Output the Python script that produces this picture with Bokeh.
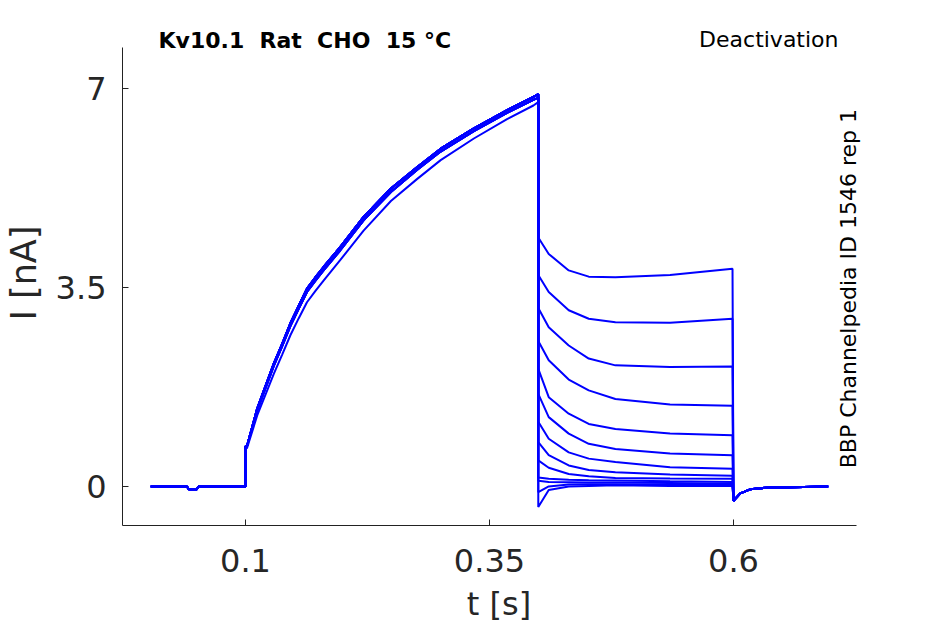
import math
from bokeh.plotting import figure
from bokeh.models import Range1d, FixedTicker, Label
from bokeh.embed import file_html
from bokeh.resources import INLINE

# ---- data ----
base_t = [0.003, 0.040, 0.042, 0.050, 0.052, 0.1]
base_i = [0.0, 0.0, -0.05, -0.05, 0.0, 0.0]

act_t = [0.1, 0.1017, 0.112, 0.129, 0.1376, 0.146, 0.1546, 0.163, 0.1717, 0.180,
         0.197, 0.221, 0.249, 0.276, 0.300, 0.334, 0.368, 0.395, 0.4]
act_upper = [0.70, 0.72, 1.37, 2.16, 2.51, 2.87, 3.18, 3.48, 3.68, 3.86,
             4.21, 4.74, 5.24, 5.62, 5.94, 6.30, 6.62, 6.85, 6.90]
act_mid = [0.70, 0.72, 1.34, 2.12, 2.47, 2.82, 3.13, 3.42, 3.62, 3.80,
           4.15, 4.68, 5.18, 5.57, 5.89, 6.25, 6.57, 6.80, 6.84]
act_lower = [0.66, 0.68, 1.25, 1.98, 2.32, 2.66, 2.96, 3.24, 3.44, 3.62,
             3.98, 4.50, 5.02, 5.41, 5.74, 6.12, 6.46, 6.70, 6.76]
act_curves = [act_upper, act_mid, act_lower]

tail_t = [0.4, 0.4107, 0.4312, 0.4517, 0.479, 0.535, 0.599]
tail_1 = [4.38, 4.09, 3.80, 3.69, 3.68, 3.72, 3.83]
tail_2 = [3.72, 3.42, 3.10, 2.95, 2.89, 2.88, 2.95]
tail_3 = [3.14, 2.80, 2.48, 2.25, 2.13, 2.10, 2.11]
tail_4 = [2.56, 2.22, 1.88, 1.69, 1.54, 1.44, 1.42]
tail_5 = [2.07, 1.57, 1.28, 1.10, 1.01, 0.93, 0.90]
tail_6 = [1.63, 1.22, 0.93, 0.75, 0.66, 0.58, 0.55]
tail_7 = [1.14, 0.84, 0.60, 0.49, 0.43, 0.34, 0.31]
tail_8 = [0.78, 0.55, 0.37, 0.29, 0.25, 0.21, 0.19]
tail_9 = [0.46, 0.33, 0.22, 0.18, 0.15, 0.14, 0.135]
tail_10 = [0.16, 0.135, 0.12, 0.11, 0.105, 0.09, 0.08]
tail_11 = [0.10, 0.08, 0.075, 0.07, 0.07, 0.06, 0.05]
tail_12 = [-0.10, 0.00, 0.035, 0.04, 0.04, 0.03, 0.03]
tail_13 = [-0.36, -0.06, 0.00, 0.01, 0.02, 0.01, 0.01]
tails = [tail_1, tail_2, tail_3, tail_4, tail_5, tail_6, tail_7,
         tail_8, tail_9, tail_10, tail_11, tail_12, tail_13]
act_choice = [0, 0, 1, 0, 1, 0, 0, 2, 0, 1, 0, 0, 1]

post_t = [0.6, 0.607, 0.617, 0.634, 0.697]
post_i = [-0.25, -0.12, -0.05, -0.02, 0.0]

x_ticks = [0.1, 0.35, 0.6]
y_ticks = [0, 3.5, 7]
x_axis_extent = (-0.026, 0.726)
y_axis_extent = (-0.686, 7.72)

title_text = "Kv10.1 \u00a0Rat \u00a0CHO \u00a015 °C"
protocol_text = "Deactivation"
id_text = "BBP Channelpedia ID 1546 rep 1"

# ---- figure ----
p = figure(frame_width=753, frame_height=505, output_backend="svg",
           toolbar_location=None,
           x_range=Range1d(-0.026, 0.7455), y_range=Range1d(-0.686, 8.195),
           min_border_left=114, min_border_right=40,
           min_border_top=20, min_border_bottom=90)
p.outline_line_color = None
p.grid.visible = False
p.background_fill_color = "white"
p.border_fill_color = "white"

line_color = "#0000ff"
for tail, ai in zip(tails, act_choice):
    ts = base_t + act_t + tail_t + post_t
    vs = base_i + act_curves[ai] + tail + post_i
    p.line(ts, vs, line_color=line_color, line_width=2)

for ax in (p.xaxis[0], p.yaxis[0]):
    ax.major_tick_in = 6
    ax.major_tick_out = 0
    ax.minor_tick_line_color = None
    ax.axis_line_color = "#222222"
    ax.major_tick_line_color = "#222222"
    ax.major_label_text_font = "DejaVu Sans"
    ax.major_label_text_font_size = "32px"
    ax.major_label_text_color = "#262626"
    ax.axis_label_text_font = "DejaVu Sans"
    ax.axis_label_text_font_style = "normal"
    ax.axis_label_text_color = "#262626"

p.xaxis.bounds = x_axis_extent
p.yaxis.bounds = y_axis_extent
p.xaxis.axis_label_text_font_size = "32px"
p.yaxis.axis_label_text_font_size = "35px"
p.xaxis.ticker = FixedTicker(ticks=x_ticks)
p.yaxis.ticker = FixedTicker(ticks=y_ticks)
p.xaxis.major_label_overrides = {0.1: "0.1", 0.35: "0.35", 0.6: "0.6"}
p.yaxis.major_label_overrides = {0: "0", 3.5: "3.5", 7: "7"}
p.xaxis.axis_label = "t [s]"
p.yaxis.axis_label = "I [nA]"
p.xaxis.major_label_standoff = 23
p.yaxis.major_label_standoff = 16
p.xaxis.axis_label_standoff = 10
p.yaxis.axis_label_standoff = 9

p.add_layout(Label(x=0.0109, y=7.84, text=title_text, text_font="DejaVu Sans",
                   text_font_size="22px", text_font_style="bold",
                   text_align="left", text_baseline="middle", text_color="black"))
p.add_layout(Label(x=0.7076, y=7.86, text=protocol_text, text_font="DejaVu Sans",
                   text_font_size="22px", text_align="right",
                   text_baseline="middle", text_color="black"))
p.add_layout(Label(x=0.718, y=0.32, text=id_text, text_font="DejaVu Sans",
                   text_font_size="22px", text_align="left", angle=math.pi / 2,
                   text_baseline="middle", text_color="black"))

open("out.html", "w").write(file_html(p, INLINE))
